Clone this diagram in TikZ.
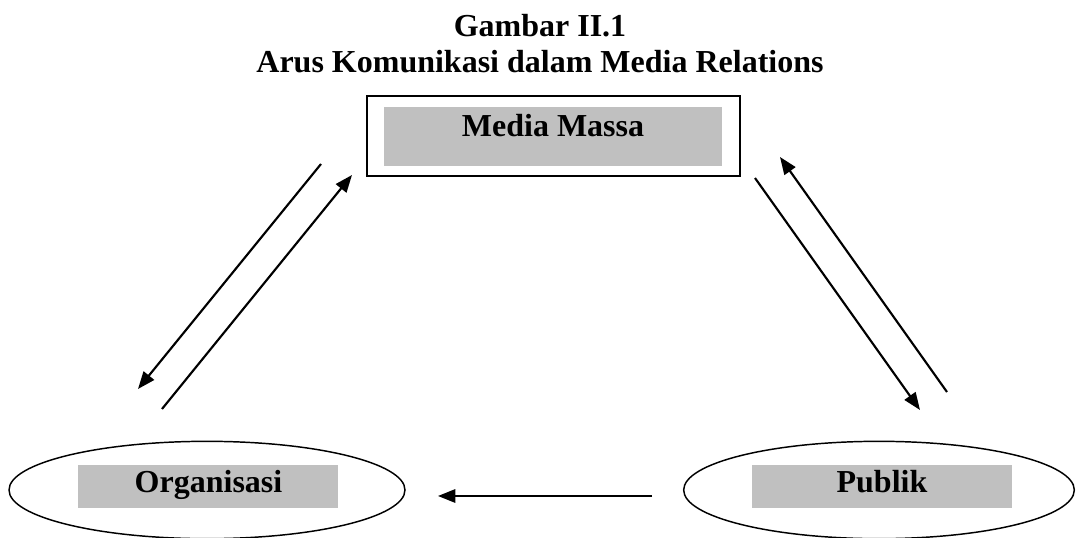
\documentclass[tikz,border=0pt]{standalone}
\usepackage{fontspec}
\setmainfont{Liberation Serif}
\usepackage{xcolor}
\definecolor{silver}{RGB}{192,192,192}
\usetikzlibrary{
arrows.meta,
shapes,
positioning
}

\begin{document}
\begin{tikzpicture}[
      x=0.75pt, y=-0.75pt,
      arrow/.style={
        -{Triangle[length=13pt,width=10pt]},
        line width=1.6pt
      },
      filler/.style={
        fill=silver,
        inner sep=0pt
      },
      heading/.style={
        font=\bfseries\fontsize{24}{28}\selectfont,
        inner sep=0pt
      },
      oval/.style={
        draw,
        ellipse,
        line width=1.1pt,
        inner sep=0pt
      }
    ]
    \useasboundingbox (0,0) rectangle (1076,538);

    \node[heading,anchor=base] (title1) at (540,37) {Gambar II.1};
    \node[heading,anchor=base] (title2) at (540,73) {Arus Komunikasi dalam Media Relations};

    \node[draw,line width=1.4pt,minimum width=279.75pt,minimum height=60pt] (mediabox) at (553.5,136) {};
    \node[filler,minimum width=253.5pt,minimum height=44.25pt] (mediafill) at (553,136.5) {};
    \node[heading,anchor=base] (media) at (553,137) {Media Massa};

    \node[oval,minimum width=297pt,minimum height=73pt] (orgoval) at (207,490) {};
    \node[filler,minimum width=195pt,minimum height=32.25pt] (orgfill) at (208,486.5) {};
    \node[heading,anchor=base] (org) at (208.5,493) {Organisasi};

    \node[oval,minimum width=293pt,minimum height=73pt] (puboval) at (879,490) {};
    \node[filler,minimum width=195pt,minimum height=32.25pt] (pubfill) at (882,486.5) {};
    \node[heading,anchor=base] (pub) at (882,493) {Publik};

    % arrow ends
    \coordinate (ml1) at (321,164);
    \coordinate (ol1) at (138,389);
    \coordinate (ol2) at (162,409);
    \coordinate (ml2) at (352,175);
    \coordinate (pr1) at (947,392);
    \coordinate (mr1) at (780,157);
    \coordinate (mr2) at (755,178);
    \coordinate (pr2) at (920,410);
    \coordinate (pb) at (652,496);
    \coordinate (ob) at (438,496);

    \draw[arrow] (ml1) -- (ol1);
    \draw[arrow] (ol2) -- (ml2);
    \draw[arrow] (pr1) -- (mr1);
    \draw[arrow] (mr2) -- (pr2);
    \draw[arrow] (pb) -- (ob);

  \end{tikzpicture}
\end{document}
